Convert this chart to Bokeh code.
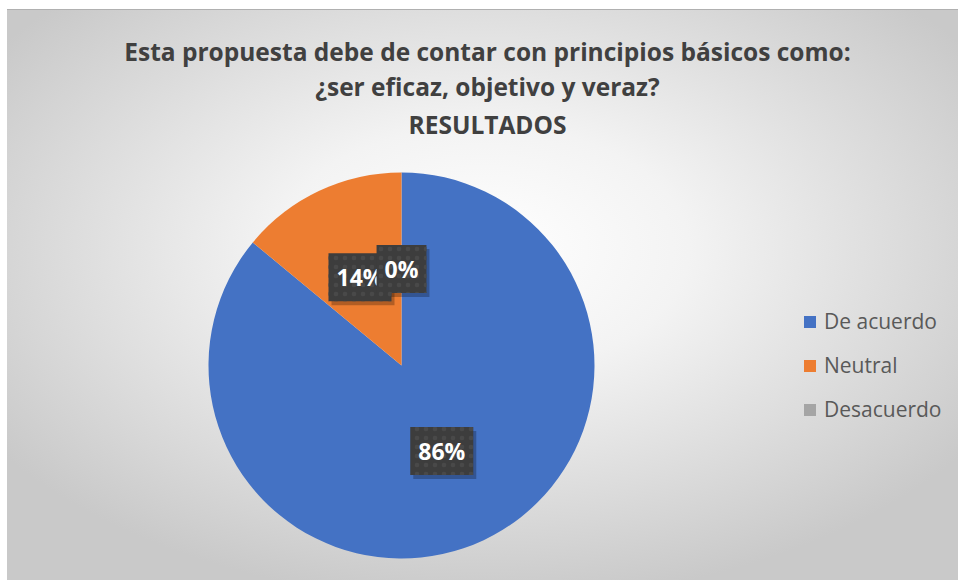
import numpy as np
from bokeh.plotting import figure
from bokeh.models import ColumnDataSource, Label, Legend, LegendItem, Range1d
from bokeh.core.properties import value
from bokeh.embed import file_html
from bokeh.resources import INLINE

categories = ["De acuerdo", "Neutral", "Desacuerdo"]
percents = [86, 14, 0]
colors = ["#4472C4", "#ED7D31", "#A5A5A5"]
title_lines = ["Esta propuesta debe de contar con principios básicos como:",
               "¿ser eficaz, objetivo y veraz?",
               "RESULTADOS"]

FONT = "Open Sans"
W, H = 951, 570
R = 193.0
CX, CY = 394.0, 215.0  # pie centre in figure pixels (from left / from bottom)

frac = np.array(percents, dtype=float) / sum(percents)
cum = np.concatenate([[0], np.cumsum(frac)])
start = np.pi / 2 - 2 * np.pi * cum[:-1]
end = np.pi / 2 - 2 * np.pi * cum[1:]
mid = (start + end) / 2
lab_r = [0.49, 0.505, 0.50]
lx = [lab_r[i] * np.cos(mid[i]) for i in range(3)]
ly = [lab_r[i] * np.sin(mid[i]) for i in range(3)]
labels = [f"{v}%" for v in percents]

src = ColumnDataSource(dict(cat=categories, pct=percents, color=colors,
                            start=start, end=end, lx=lx, ly=ly, label=labels))

p = figure(width=W, height=H, output_backend="svg", toolbar_location=None,
           x_range=Range1d(-CX / R, (W - CX) / R), y_range=Range1d(-CY / R, (H - CY) / R),
           min_border=0, outline_line_color=None)
p.axis.visible = False
p.grid.visible = False
p.background_fill_alpha = 0
p.border_fill_alpha = 0
p.styles = {"background": "radial-gradient(ellipse 62% 62% at 50% 42%, #ffffff 0%, #f3f3f3 35%, #d6d6d6 80%, #c9c9c9 100%)",
            "margin-left": "7px", "margin-top": "10px",
            "box-shadow": "0 -1px 0 #b0b0b0"}

renderers = []
for i in range(3):
    ea = float(end[i]) if percents[i] != 0 else float(start[i]) - 1e-6
    r = p.wedge(x=0, y=0, radius=1, start_angle=float(start[i]), end_angle=ea,
                direction="clock", fill_color=colors[i], line_color=None)
    renderers.append(r)

# label shadows
p.text(x="lx", y="ly", text="label", source=src, text_align="center", text_baseline="middle",
       text_alpha=0, text_font=value(FONT), text_font_style="bold", text_font_size="23px",
       background_fill_color="black", background_fill_alpha=0.25,
       x_offset=3, y_offset=4, padding=[8, 8, 8, 8])
p.text(x="lx", y="ly", text="label", source=src, text_align="center", text_baseline="middle",
       text_color="white", text_font=value(FONT), text_font_style="bold", text_font_size="23px",
       background_fill_color="#3d3d3d", background_hatch_pattern="dot",
       background_hatch_color="#494949", background_hatch_scale=9,
       padding=[8, 8, 8, 8])

legend = Legend(items=[LegendItem(label=categories[i], renderers=[renderers[i]]) for i in range(3)],
                location=(795, 157), orientation="vertical",
                label_text_font=FONT, label_text_font_size="21px", label_text_color="#595959",
                glyph_width=15, glyph_height=15, label_height=24, spacing=16, label_standoff=7,
                padding=0, margin=0, background_fill_alpha=0, border_line_color=None)
p.add_layout(legend)

ys = [H - 41, H - 76, H - 114]
for t, yy in zip(title_lines, ys):
    p.add_layout(Label(x=480, y=yy, x_units="screen", y_units="screen", text=t,
                       text_align="center", text_baseline="alphabetic",
                       text_font=FONT, text_font_style="bold", text_font_size="24.5px",
                       text_color="#404040"))

open("out.html", "w").write(file_html(p, INLINE))
